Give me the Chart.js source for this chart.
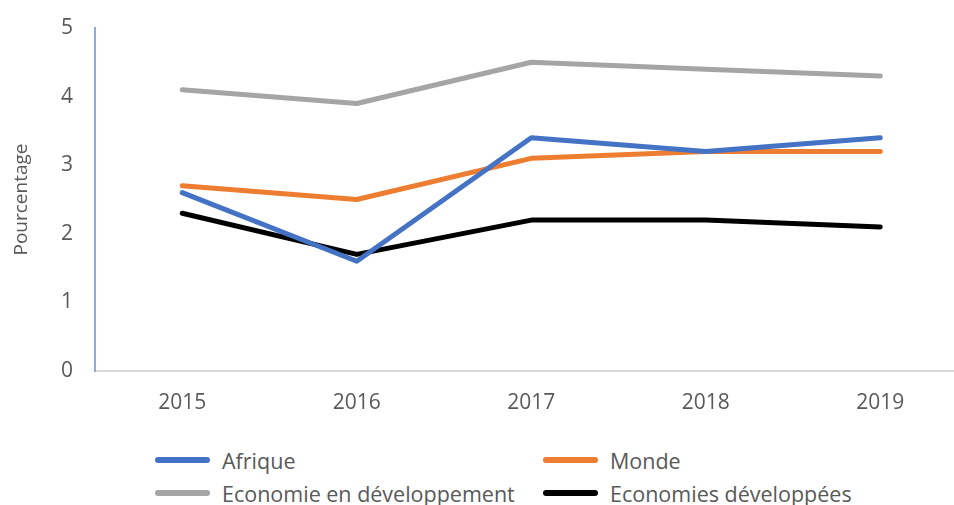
<!DOCTYPE html>
<html lang="fr">
<head>
<meta charset="UTF-8">
<title>Pourcentage 2015-2019</title>
<script src="https://cdn.jsdelivr.net/npm/chart.js"></script>
<style>
  html, body { margin: 0; padding: 0; background: #fff; overflow: hidden; }
  body { width: 954px; height: 505px; position: relative; font-family: 'Open Sans', sans-serif; }
  #wrap { position: absolute; left: 0; top: 0; width: 975px; height: 430px; }
  .legend-item { position: absolute; display: flex; align-items: center; font-size: 21.5px; color: #595959; white-space: nowrap; }
  .legend-item .swatch { width: 55px; height: 6px; border-radius: 3px; margin-right: 12px; }
</style>
</head>
<body>
<div id="wrap"><canvas id="chart"></canvas></div>
<div id="legend"></div>
<script>
const years = ['2015', '2016', '2017', '2018', '2019'];
const afrique = [2.6, 1.6, 3.4, 3.2, 3.4];
const monde = [2.7, 2.5, 3.1, 3.2, 3.2];
const ecoDev = [4.1, 3.9, 4.5, 4.4, 4.3];
const ecoDeveloppees = [2.3, 1.7, 2.2, 2.2, 2.1];

const series = [
  { label: 'Afrique', data: afrique, color: '#4472C4' },
  { label: 'Monde', data: monde, color: '#ED7D31' },
  { label: 'Economie en développement', data: ecoDev, color: '#A5A5A5' },
  { label: 'Economies développées', data: ecoDeveloppees, color: '#000000' }
];

// legend laid out in two columns like the original
const legendPos = [
  { left: 155, top: 460 },
  { left: 543, top: 460 },
  { left: 155, top: 493 },
  { left: 543, top: 493 }
];
const legend = document.getElementById('legend');
series.forEach((s, i) => {
  const item = document.createElement('div');
  item.className = 'legend-item';
  item.style.left = legendPos[i].left + 'px';
  item.style.top = (legendPos[i].top - 14) + 'px';
  item.style.height = '28px';
  item.innerHTML = '<span class="swatch" style="background:' + s.color + '"></span><span>' + s.label + '</span>';
  legend.appendChild(item);
});

new Chart(document.getElementById('chart'), {
  type: 'line',
  data: {
    labels: years,
    datasets: series.map(s => ({
      label: s.label,
      data: s.data,
      borderColor: s.color,
      backgroundColor: s.color,
      borderWidth: 5,
      pointRadius: 0,
      tension: 0,
      borderCapStyle: 'round',
      borderJoinStyle: 'round'
    }))
  },
  options: {
    responsive: true,
    maintainAspectRatio: false,
    animation: false,
    layout: { padding: { top: 28, right: 7.5, bottom: 0, left: 0 } },
    plugins: { legend: { display: false }, tooltip: { enabled: false } },
    scales: {
      x: {
        offset: true,
        grid: { display: false, drawTicks: false },
        border: { display: true, color: '#D9D9D9', width: 2 },
        ticks: { color: '#595959', font: { family: 'Open Sans', size: 21 }, padding: 19, maxRotation: 0 },
        afterFit: scale => { scale.height = 59; scale.paddingLeft = 0; scale.paddingRight = 0; }
      },
      y: {
        min: 0,
        max: 5,
        grid: { display: false, drawTicks: false },
        border: { display: true, color: '#8EA9DB', width: 2 },
        ticks: { stepSize: 1, color: '#595959', font: { family: 'Open Sans', size: 21 }, padding: 22 },
        title: { display: true, text: 'Pourcentage', color: '#595959', font: { family: 'Open Sans', size: 19 }, padding: { top: 10, bottom: 0 } },
        afterFit: scale => { scale.width = 95; scale.paddingTop = 0; scale.paddingBottom = 0; }
      }
    }
  }
});
</script>
</body>
</html>
